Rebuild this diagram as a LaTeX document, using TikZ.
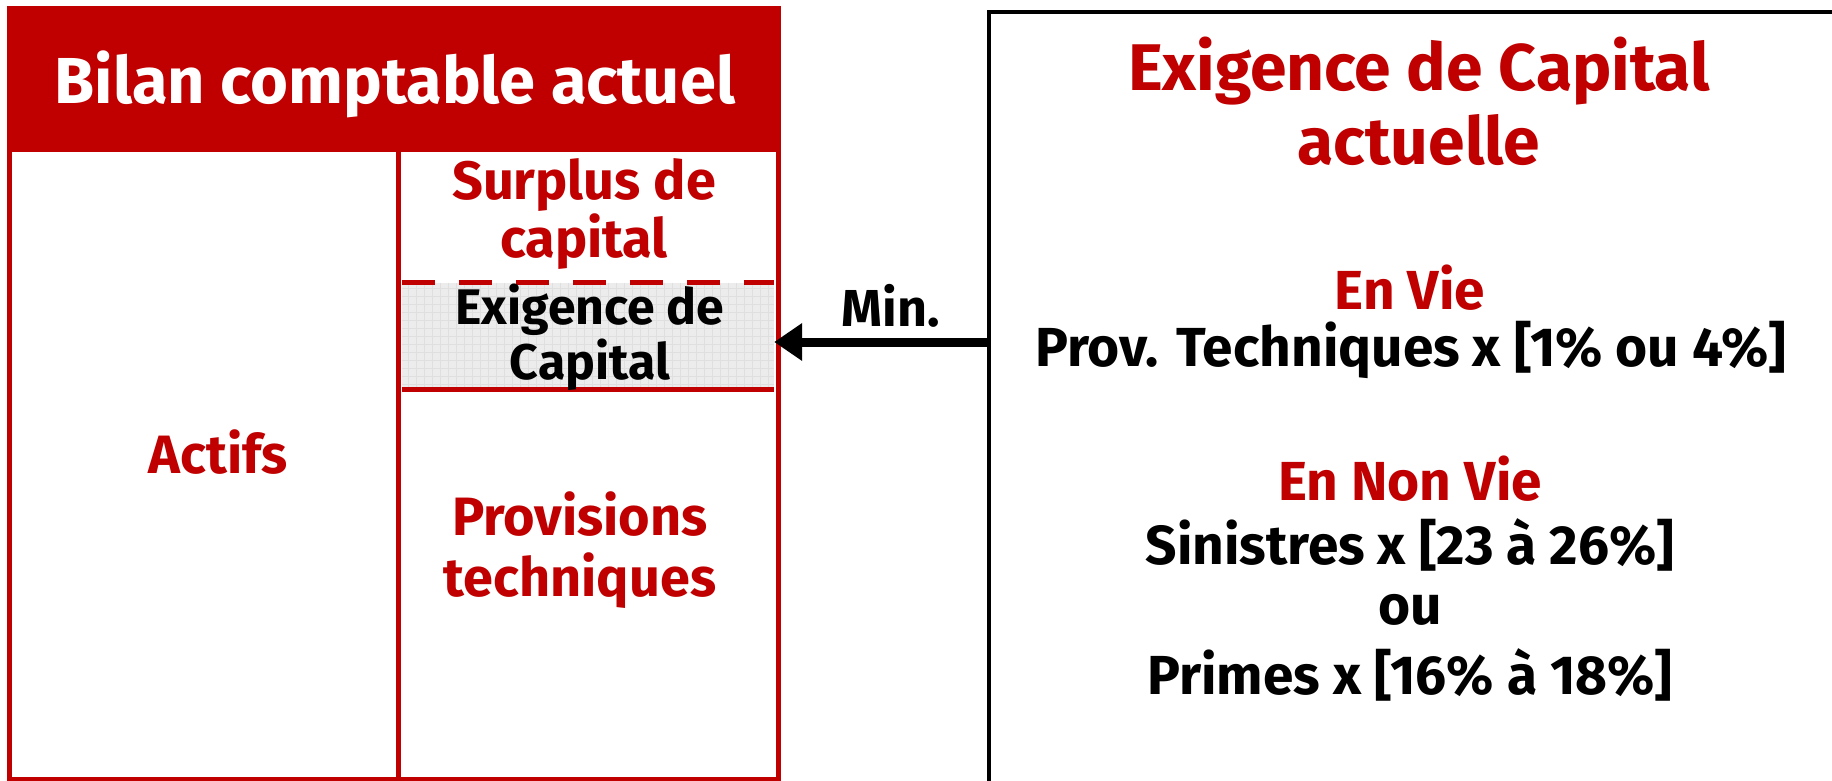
\documentclass[tikz,border=0pt]{standalone}
\usepackage{fontspec}
\setmainfont{Fira Sans}
\usetikzlibrary{arrows.meta}
\definecolor{bred}{RGB}{192,0,0}
\definecolor{shade}{RGB}{236,236,236}
\begin{document}
\begin{tikzpicture}[x=1pt,y=-1pt,
  redbox/.style={draw=bred, line width=5pt, rectangle, inner sep=0pt},
  head/.style={font=\fontsize{65}{74}\selectfont\bfseries, align=center, inner sep=0pt},
  big/.style={font=\fontsize{66}{74}\selectfont\bfseries, align=center, inner sep=0pt},
  mid/.style={font=\fontsize{55}{59}\selectfont\bfseries, align=center, inner sep=0pt},
  lbl/.style={font=\fontsize{54}{58}\selectfont\bfseries, align=center, inner sep=0pt},
  small/.style={font=\fontsize{52}{56}\selectfont\bfseries, align=center, inner sep=0pt},
  tiny/.style={font=\fontsize{50}{55}\selectfont\bfseries, align=center, inner sep=0pt}]
\useasboundingbox (0,0) rectangle (1832,781);
\fill[white] (0,0) rectangle (1832,781);
% left balance sheet
\node[redbox, fill=bred, minimum width=769pt, minimum height=141pt] (head) at (393.5,79.5) {};
\node[redbox, minimum width=389pt, minimum height=629pt] (actcol) at (203.5,464.5) {};
\node[redbox, minimum width=380pt, minimum height=629pt] (passcol) at (588,464.5) {};
\node[rectangle, fill=shade, inner sep=0pt, minimum width=372pt, minimum height=106pt] (exig) at (588,336) {};
\begin{scope}
\clip (exig.north west) rectangle (exig.south east);
\draw[gray!25, line width=0.6pt, step=8pt] (exig.north west) grid (exig.south east);
\end{scope}
\draw[bred, line width=5pt, dash pattern=on 33pt off 24pt] (exig.north west) -- (exig.north east);
\draw[bred, line width=5pt] (exig.south west) -- (exig.south east);
\node[head, text=white] (headtxt) at (395,84) {Bilan comptable actuel};
\node[lbl, text=bred] (surplus) at (584,214) {Surplus de\\capital};
\node[tiny, text=black] (exigtxt) at (590,337) {Exigence de\\Capital};
\node[lbl, text=bred] (actifs) at (218,452) {Actifs};
\node[lbl, text=bred, font=\fontsize{54}{61}\selectfont\bfseries] (prov) at (580,550) {Provisions\\techniques};
% right box
\node[rectangle, draw=black, line width=4pt, inner sep=0pt, minimum width=861pt, minimum height=784pt] (rbox) at (1419.5,404) {};
\node[big, text=bred] (rtitle) at (1419,101) {Exigence de Capital\\actuelle};
\node[mid, text=bred] (vie) at (1410,288) {En Vie};
\node[mid] (vietxt) at (1411,350) {Prov. Techniques x [1\% ou 4\%]};
\node[mid, text=bred] (nonvie) at (1410,479) {En Non Vie};
\node[mid] (sin) at (1410,545) {Sinistres x [23 à 26\%]};
\node[mid] (ou) at (1410,610) {ou};
\node[mid] (prim) at (1410,675) {Primes x [16\% à 18\%]};
% arrow
\draw[line width=9pt, -{Triangle[length=28pt, width=36pt]}] (exig.east -| rbox.west) ++(0,6) coordinate (astart) -- (exig.east |- astart);
\node[small] (min) at (891,306) {Min.};
\end{tikzpicture}
\end{document}
